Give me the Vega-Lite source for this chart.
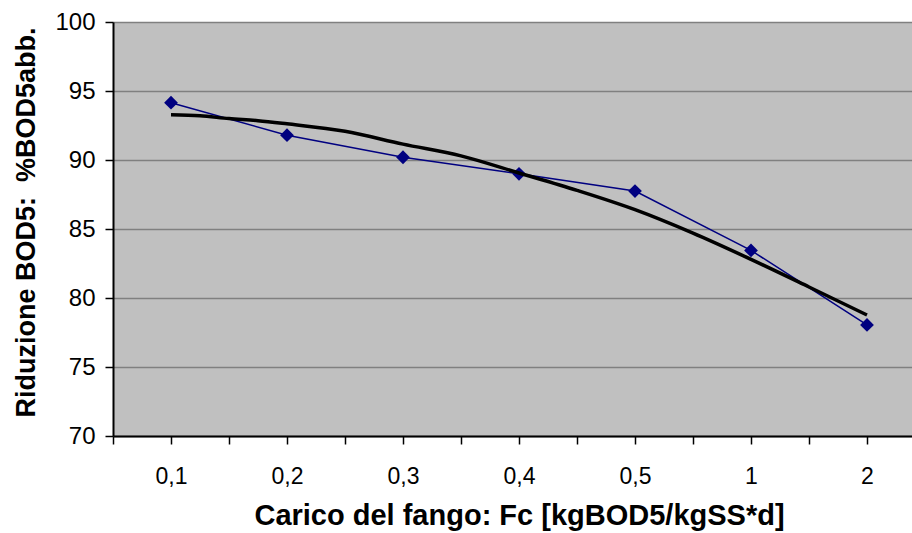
{
  "$schema": "https://vega.github.io/schema/vega-lite/v6.json",
  "width": 799,
  "height": 414,
  "autosize": {"type": "none"},
  "padding": {"left": 113, "top": 22, "right": 0, "bottom": 97},
  "background": "white",
  "config": {
    "view": {"fill": "#C0C0C0", "stroke": null},
    "font": "Liberation Sans"
  },
  "datasets": {
    "measured": [
      {"x": 1, "y": 94.15},
      {"x": 2, "y": 91.8},
      {"x": 3, "y": 90.2},
      {"x": 4, "y": 89.0},
      {"x": 5, "y": 87.75},
      {"x": 6, "y": 83.45},
      {"x": 7, "y": 78.05}
    ],
    "trend": [
      {"x": 1.0, "y": 93.28},
      {"x": 1.25, "y": 93.2},
      {"x": 1.5, "y": 93.0},
      {"x": 1.75, "y": 92.85},
      {"x": 2.0, "y": 92.62},
      {"x": 2.5, "y": 92.08},
      {"x": 3.0, "y": 91.15},
      {"x": 3.5, "y": 90.3},
      {"x": 4.0, "y": 89.06},
      {"x": 4.5, "y": 87.8},
      {"x": 5.0, "y": 86.4},
      {"x": 5.5, "y": 84.7},
      {"x": 6.0, "y": 82.8},
      {"x": 6.5, "y": 80.8},
      {"x": 7.0, "y": 78.77}
    ]
  },
  "encoding": {
    "x": {
      "field": "x",
      "type": "quantitative",
      "scale": {"domain": [0.5, 7.388], "nice": false, "zero": false},
      "axis": {
        "values": [0.5, 1, 1.5, 2, 2.5, 3, 3.5, 4, 4.5, 5, 5.5, 6, 6.5, 7],
        "labelExpr": "datum.value % 1 === 0 ? ['0,1','0,2','0,3','0,4','0,5','1','2'][datum.value - 1] : ''",
        "grid": false,
        "domainColor": "#000000",
        "domainWidth": 2,
        "tickColor": "#000000",
        "tickWidth": 1.5,
        "tickSize": 8,
        "labelFontSize": 23,
        "labelColor": "#000000",
        "labelPadding": 21,
        "labelFlush": false,
        "labelOverlap": false,
        "title": "Carico del fango: Fc [kgBOD5/kgSS*d]",
        "titleFontSize": 29,
        "titleFontWeight": "bold",
        "titleColor": "#000000",
        "titleX": 406,
        "titleY": 88,
        "titleAnchor": "middle",
        "titleBaseline": "alphabetic"
      }
    },
    "y": {
      "field": "y",
      "type": "quantitative",
      "scale": {"domain": [70, 100], "nice": false, "zero": false},
      "axis": {
        "values": [70, 75, 80, 85, 90, 95, 100],
        "grid": true,
        "gridColor": "#808080",
        "gridWidth": 1.5,
        "domainColor": "#000000",
        "domainWidth": 2,
        "tickColor": "#000000",
        "tickWidth": 1.5,
        "tickSize": 8,
        "labelFontSize": 24,
        "labelColor": "#000000",
        "labelPadding": 10,
        "title": "Riduzione BOD5: \u00a0%BOD5abb.",
        "titleFontSize": 27,
        "titleFontWeight": "bold",
        "titleColor": "#000000",
        "titleX": -79,
        "titleY": 200,
        "titleAngle": -90,
        "titleAnchor": "middle",
        "titleBaseline": "alphabetic"
      }
    }
  },
  "layer": [
    {
      "data": {"name": "measured"},
      "mark": {
        "type": "line",
        "color": "#000080",
        "strokeWidth": 1.5,
        "point": {"shape": "diamond", "filled": true, "size": 190, "color": "#000080", "opacity": 1}
      }
    },
    {
      "data": {"name": "trend"},
      "mark": {"type": "line", "color": "#000000", "strokeWidth": 3.5, "interpolate": "monotone"}
    }
  ]
}
